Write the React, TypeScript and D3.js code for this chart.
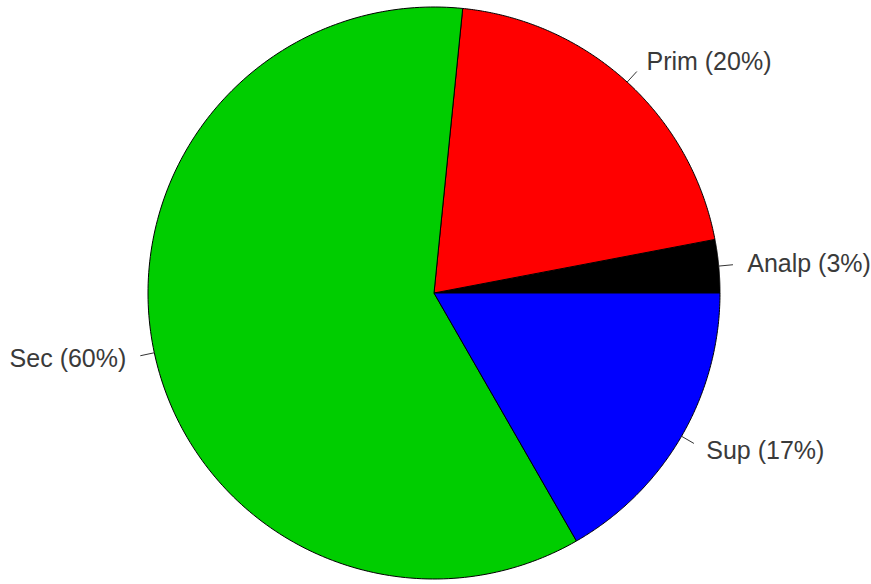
import React from "react";
import * as d3 from "d3";

const categories = ["Analp", "Prim", "Sec", "Sup"];
const values = [3.0, 20.4, 59.9, 16.7];
const labels = ["Analp (3%)", "Prim (20%)", "Sec (60%)", "Sup (17%)"];
const colors = ["#000000", "#ff0000", "#00cd00", "#0000ff"];

export default function App() {
  const W = 871, H = 584;
  const cx = 434, cy = 293, r = 286;
  const total = d3.sum(values);
  // R-style: counterclockwise starting at 3 o'clock
  const angle = d3.scaleLinear().domain([0, total]).range([0, 2 * Math.PI]);
  const cum = d3.cumsum(values);
  const slices = values.map((v, i) => {
    const a0 = angle(i === 0 ? 0 : cum[i - 1]);
    const a1 = angle(cum[i]);
    return { a0, a1, i };
  });
  const pt = (a: number, rr: number) => [cx + rr * Math.cos(a), cy - rr * Math.sin(a)];
  const slicePath = (a0: number, a1: number) => {
    const p = d3.path();
    p.moveTo(cx, cy);
    const n = 200;
    for (let k = 0; k <= n; k++) {
      const a = a0 + ((a1 - a0) * k) / n;
      const [x, y] = pt(a, r);
      p.lineTo(x, y);
    }
    p.closePath();
    return p.toString();
  };
  return (
    <svg width={W} height={H} style={{ position: "absolute", left: 0, top: 0, background: "#fff" }}>
      {slices.map((s) => (
        <path key={categories[s.i]} d={slicePath(s.a0, s.a1)} fill={colors[s.i]} stroke="#000" strokeWidth={1} />
      ))}
      {slices.map((s) => {
        const m = (s.a0 + s.a1) / 2;
        const [x1, y1] = pt(m, r);
        const [x2, y2] = pt(m, r * 1.05);
        const [tx, ty] = pt(m, r * 1.1);
        const right = Math.cos(m) > 0;
        return (
          <g key={"l" + s.i}>
            <line x1={x1} y1={y1} x2={x2} y2={y2} stroke="#333" strokeWidth={1} />
            <text x={tx} y={ty} dy="0.35em" textAnchor={right ? "start" : "end"}
              fontFamily="Liberation Sans, Arial, sans-serif" fontSize={25} fill="#3a3a3a">
              {labels[s.i]}
            </text>
          </g>
        );
      })}
    </svg>
  );
}
